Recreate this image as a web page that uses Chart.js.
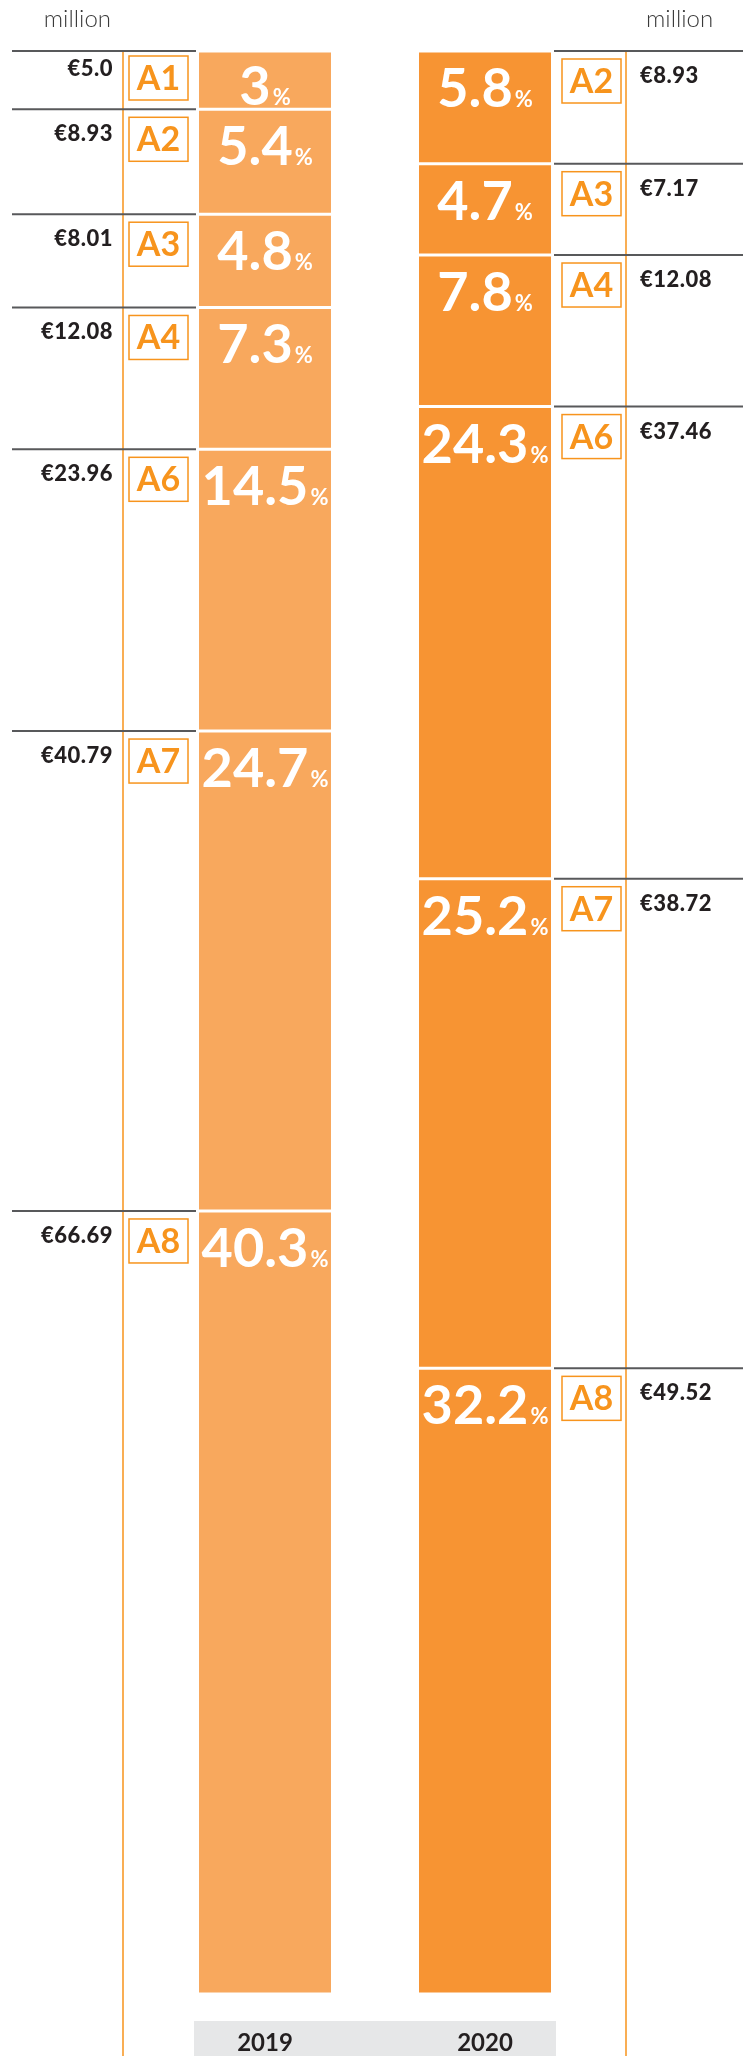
<!DOCTYPE html>
<html>
<head>
<meta charset="utf-8">
<script src="https://cdn.jsdelivr.net/npm/chart.js@4.4.0/dist/chart.umd.min.js"></script>
<style>
  html, body { margin: 0; padding: 0; background: #fff; }
  #wrap { width: 743px; height: 2056px; }
</style>
</head>
<body>
<div id="wrap"><canvas id="shareChart" width="743" height="2056"></canvas></div>
<script>
const years = ["2019", "2020"];
const groups = ["A1", "A2", "A3", "A4", "A6", "A7", "A8"];
// share of the total, % (null = group not present that year)
const share2019 = [3, 5.4, 4.8, 7.3, 14.5, 24.7, 40.3];
const share2020 = [null, 5.8, 4.7, 7.8, 24.3, 25.2, 32.2];
// amounts in € million, kept as printed
const amount2019 = ["5.0", "8.93", "8.01", "12.08", "23.96", "40.79", "66.69"];
const amount2020 = [null, "8.93", "7.17", "12.08", "37.46", "38.72", "49.52"];
const unitLabel = "million";

const lightOrange = "#F8A85D";
const darkOrange = "#F79433";
const accent = "#F7941D";
const ink = "#231F20";

Chart.defaults.font.family = "Lato";

const shares = [share2019, share2020];
const amounts = [amount2019, amount2020];

const datasets = groups.map((g, i) => ({
  label: g,
  data: [share2019[i], share2020[i]],
  backgroundColor: [lightOrange, darkOrange],
  borderColor: "#fff",
  borderWidth: { top: 1.5, bottom: 1.5, left: 0, right: 0 },
  borderSkipped: false,
  stack: "total"
}));

// side annotations: rules, group boxes, amounts, percent labels
const sideLabels = {
  id: "sideLabels",
  beforeDraw(chart) {
    const ctx = chart.ctx;
    const ref = chart.getDatasetMeta(1).data;
    const bw = ref[0].width;
    const x0 = ref[0].x - bw / 2 - 5;
    const x1 = ref[1].x + bw / 2 + 5;
    ctx.save();
    ctx.fillStyle = "#E6E7E8";
    ctx.fillRect(x0, chart.chartArea.bottom + 27, x1 - x0, chart.height - chart.chartArea.bottom - 27);

    // orange verticals
    const leftEdge = ref[0].x - bw / 2;
    const rightEdge = ref[1].x + bw / 2;
    ctx.strokeStyle = accent;
    ctx.lineWidth = 1.5;
    ctx.beginPath();
    ctx.moveTo(leftEdge - 76, chart.chartArea.top + 1);
    ctx.lineTo(leftEdge - 76, chart.height);
    ctx.moveTo(rightEdge + 75, chart.chartArea.top + 1);
    ctx.lineTo(rightEdge + 75, chart.height);
    ctx.stroke();

    // unit captions
    ctx.fillStyle = "#3a3a3a";
    ctx.font = "300 24px Lato";
    ctx.textBaseline = "alphabetic";
    ctx.textAlign = "right";
    ctx.fillText(unitLabel, leftEdge - 88, 27);
    ctx.textAlign = "left";
    ctx.fillText(unitLabel, rightEdge + 95, 27);
    ctx.restore();
  },
  afterDatasetsDraw(chart) {
    const ctx = chart.ctx;
    ctx.save();
    groups.forEach((g, i) => {
      const meta = chart.getDatasetMeta(i);
      years.forEach((yr, j) => {
        const v = shares[j][i];
        if (v == null) return;
        const el = meta.data[j];
        const top = Math.min(el.y, el.base);
        const bottom = Math.max(el.y, el.base);
        const left = el.x - el.width / 2;
        const right = el.x + el.width / 2;

        // rule at top of the segment
        ctx.strokeStyle = "#58595B";
        ctx.lineWidth = 2;
        ctx.beginPath();
        if (j === 0) {
          ctx.moveTo(12, top);
          ctx.lineTo(left - 3, top);
        } else {
          ctx.moveTo(right + 3, top);
          ctx.lineTo(chart.width, top);
        }
        ctx.stroke();

        // group box
        const bx = j === 0 ? left - 70 : right + 11;
        const by = top + (bottom - top < 60 ? 5 : 8);
        ctx.strokeStyle = accent;
        ctx.lineWidth = 1.5;
        ctx.strokeRect(bx, by, 59, 44);
        ctx.fillStyle = accent;
        ctx.font = "bold 34px Lato";
        ctx.textAlign = "center";
        ctx.textBaseline = "middle";
        ctx.fillText(g, bx + 29.5, by + 23);

        // amount
        ctx.fillStyle = ink;
        ctx.font = "900 22px Lato";
        ctx.textBaseline = "alphabetic";
        ctx.letterSpacing = "0.5px";
        const amt = "€" + amounts[j][i];
        const ay = top + (bottom - top < 60 ? 25 : 32);
        if (j === 0) {
          ctx.textAlign = "right";
          ctx.fillText(amt, left - 86, ay);
        } else {
          ctx.textAlign = "left";
          ctx.fillText(amt, right + 89, ay);
        }
        ctx.letterSpacing = "0px";

        // percent label inside the bar
        const num = String(v);
        ctx.font = "bold 54px Lato";
        const wn = ctx.measureText(num).width;
        ctx.font = "bold 22px Lato";
        const wp = ctx.measureText("%").width;
        const total = wn + 2 + wp;
        const sx = el.x - total / 2;
        const base = Math.min(top + 56, bottom - 4);
        ctx.fillStyle = "#fff";
        ctx.textAlign = "left";
        ctx.font = "bold 54px Lato";
        ctx.fillText(num, sx, base);
        ctx.font = "bold 22px Lato";
        ctx.fillText("%", sx + wn + 2, base);
      });
    });
    ctx.restore();
  }
};

new Chart(document.getElementById("shareChart"), {
  type: "bar",
  data: { labels: years, datasets: datasets },
  options: {
    responsive: false,
    animation: false,
    layout: { padding: { left: 155, right: 148, top: 51, bottom: 0 } },
    plugins: { legend: { display: false }, tooltip: { enabled: false } },
    datasets: { bar: { barPercentage: 1, categoryPercentage: 0.6 } },
    scales: {
      x: {
        stacked: true,
        grid: { display: false, drawTicks: false },
        border: { display: false },
        ticks: { padding: 35, color: ink, font: { size: 24, weight: "bold" } },
        afterFit: (s) => { s.height = 62; }
      },
      y: { stacked: true, reverse: true, min: 0, max: 100, display: false }
    }
  },
  plugins: [sideLabels]
});
</script>
</body>
</html>
